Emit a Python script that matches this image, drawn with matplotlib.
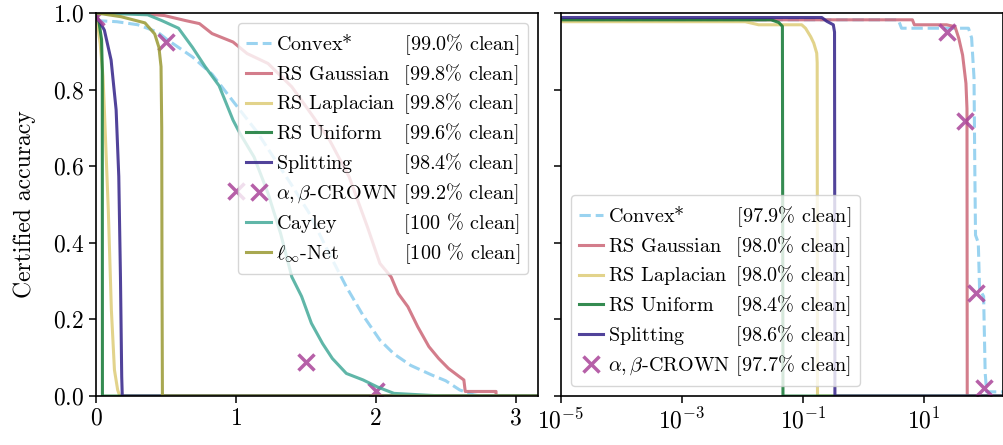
import matplotlib
matplotlib.use("Agg")
import matplotlib.pyplot as plt
from matplotlib.ticker import NullLocator

plt.rcParams['font.family'] = 'serif'
plt.rcParams['font.serif'] = ['cmr10']
plt.rcParams['mathtext.fontset'] = 'cm'
plt.rcParams['axes.formatter.use_mathtext'] = True
plt.rcParams['axes.unicode_minus'] = False

# colours (Tol muted)
c_convex = '#88CCEE'
c_gauss = '#CC6677'
c_lap = '#DDCC77'
c_unif = '#117733'
c_split = '#332288'
c_crown = '#AA4499'
c_cayley = '#44AA99'
c_linf = '#999933'

# ---- left panel (l2 radius) ----
convex_l_x = [0, 0.15, 0.3, 0.44, 0.51, 0.69, 0.83, 1.0, 1.15, 1.4, 1.52, 1.67, 1.79, 1.91, 2.03, 2.13, 2.25, 2.4, 2.5, 2.6, 2.7, 2.75, 3.2]
convex_l_y = [0.98, 0.977, 0.969, 0.95, 0.93, 0.885, 0.84, 0.76, 0.69, 0.55, 0.48, 0.37, 0.285, 0.21, 0.146, 0.11, 0.08, 0.055, 0.04, 0.016, 0.003, 0, 0]

gauss_l_x = [0, 0.34, 0.49, 0.64, 0.74, 0.83, 0.98, 1.08, 1.23, 1.40, 1.52, 1.67, 1.81, 1.94, 2.03, 2.11, 2.16, 2.23, 2.30, 2.38, 2.45, 2.52, 2.60, 2.63, 2.64, 2.86, 2.86, 3.2]
gauss_l_y = [1.0, 0.998, 0.993, 0.98, 0.972, 0.946, 0.924, 0.894, 0.868, 0.807, 0.746, 0.668, 0.572, 0.442, 0.346, 0.311, 0.268, 0.233, 0.181, 0.129, 0.098, 0.072, 0.05, 0.042, 0.012, 0.012, 0, 0]

lap_l_x = [0, 0.03, 0.05, 0.06, 0.088, 0.11, 0.132, 0.155, 0.17, 3.2]
lap_l_y = [0.998, 0.92, 0.834, 0.747, 0.486, 0.225, 0.068, 0.016, 0, 0]

unif_l_x = [0, 0.02, 0.04, 0.045, 0.046, 3.2]
unif_l_y = [0.998, 0.98, 0.93, 0.85, 0, 0]

split_l_x = [0, 0.03, 0.06, 0.108, 0.144, 0.163, 0.175, 0.184, 0.188, 3.2]
split_l_y = [0.99, 0.975, 0.955, 0.877, 0.747, 0.573, 0.31, 0.05, 0, 0]

crown_l_x = [0, 0.5, 1.0, 1.5, 2.0]
crown_l_y = [0.99, 0.924, 0.536, 0.09, 0.014]

cayley_l_x = [0, 0.37, 0.47, 0.59, 0.69, 0.78, 0.88, 0.98, 1.03, 1.13, 1.23, 1.32, 1.40, 1.47, 1.54, 1.62, 1.69, 1.79, 1.91, 2.01, 2.13, 2.38, 2.5, 3.2]
cayley_l_y = [1.0, 0.995, 0.98, 0.96, 0.91, 0.86, 0.81, 0.72, 0.685, 0.624, 0.529, 0.424, 0.311, 0.26, 0.19, 0.137, 0.098, 0.059, 0.042, 0.024, 0.007, 0.002, 0, 0]

linf_l_x = [0, 0.18, 0.35, 0.42, 0.45, 0.465, 0.47, 0.472, 0.475, 3.2]
linf_l_y = [1.0, 0.99, 0.974, 0.945, 0.91, 0.86, 0.7, 0.3, 0, 0]

# ---- right panel (linf radius, log) ----
convex_r_x = [1e-5, 3.8, 4.3, 55, 62, 68, 70, 72, 80, 84, 98, 104, 110, 300]
convex_r_y = [0.982, 0.982, 0.96, 0.96, 0.935, 0.83, 0.6, 0.42, 0.40, 0.28, 0.26, 0.06, 0.011, 0.011]

gauss_r_x = [1e-5, 6.5, 7.0, 24, 33, 38, 44, 50, 52, 52.5, 300]
gauss_r_y = [0.982, 0.982, 0.969, 0.969, 0.964, 0.934, 0.89, 0.816, 0.75, 0, 0]

lap_r_x = [1e-5, 0.0112, 0.0186, 0.096, 0.111, 0.135, 0.152, 0.17, 0.173, 0.175, 300]
lap_r_y = [0.977, 0.977, 0.969, 0.969, 0.96, 0.938, 0.921, 0.895, 0.87, 0, 0]

unif_r_x = [1e-5, 0.03, 0.04, 0.046, 0.047, 300]
unif_r_y = [0.982, 0.982, 0.975, 0.965, 0, 0]

split_r_x = [1e-5, 0.206, 0.25, 0.32, 0.335, 0.34, 300]
split_r_y = [0.988, 0.988, 0.978, 0.969, 0.95, 0, 0]

crown_r_x = [24.3, 49, 73, 98]
crown_r_y = [0.951, 0.718, 0.268, 0.02]

names_l = ['Convex*', 'RS Gaussian', 'RS Laplacian', 'RS Uniform', 'Splitting',
           r'$\alpha, \beta$-CROWN', 'Cayley', r'$\ell_\infty$-Net']
clean_l = ['[99.0% clean]', '[99.8% clean]', '[99.8% clean]', '[99.6% clean]',
           '[98.4% clean]', '[99.2% clean]', '[100 % clean]', '[100 % clean]']
names_r = names_l[:6]
clean_r = ['[97.9% clean]', '[98.0% clean]', '[98.0% clean]', '[98.4% clean]',
           '[98.6% clean]', '[97.7% clean]']

fig, (ax1, ax2) = plt.subplots(1, 2, sharey=True, figsize=(10.04, 4.45), dpi=100)
fig.subplots_adjust(left=0.0956, right=0.999, top=0.971, bottom=0.110, wspace=0.052)

lw = 2.2
al = 0.85
ms = 12
mw = 2.5

h1 = []
h1 += ax1.plot(convex_l_x, convex_l_y, '--', color=c_convex, lw=lw, alpha=al)
h1 += ax1.plot(gauss_l_x, gauss_l_y, color=c_gauss, lw=lw, alpha=al)
h1 += ax1.plot(lap_l_x, lap_l_y, color=c_lap, lw=lw, alpha=al)
h1 += ax1.plot(unif_l_x, unif_l_y, color=c_unif, lw=lw, alpha=al)
h1 += ax1.plot(split_l_x, split_l_y, color=c_split, lw=lw, alpha=al)
h1 += ax1.plot(crown_l_x, crown_l_y, 'x', color=c_crown, ms=ms, mew=mw, alpha=al)
h1 += ax1.plot(cayley_l_x, cayley_l_y, color=c_cayley, lw=lw, alpha=al)
h1 += ax1.plot(linf_l_x, linf_l_y, color=c_linf, lw=lw, alpha=al)

h2 = []
h2 += ax2.plot(convex_r_x, convex_r_y, '--', color=c_convex, lw=lw, alpha=al)
h2 += ax2.plot(gauss_r_x, gauss_r_y, color=c_gauss, lw=lw, alpha=al)
h2 += ax2.plot(lap_r_x, lap_r_y, color=c_lap, lw=lw, alpha=al)
h2 += ax2.plot(unif_r_x, unif_r_y, color=c_unif, lw=lw, alpha=al)
h2 += ax2.plot(split_r_x, split_r_y, color=c_split, lw=lw, alpha=al)
h2 += ax2.plot(crown_r_x, crown_r_y, 'x', color=c_crown, ms=ms, mew=mw, alpha=al)

ax1.set_xlim(0, 3.16)
ax1.set_ylim(0, 1)
ax1.set_xticks([0, 1, 2, 3])
ax1.set_yticks([0, 0.2, 0.4, 0.6, 0.8, 1.0])
ax1.set_ylabel('Certified accuracy', fontsize=17, labelpad=12)

ax2.set_xscale('log')
ax2.set_xlim(1e-5, 205)
ax2.set_xticks([1e-5, 1e-3, 1e-1, 1e1])
ax2.xaxis.set_minor_locator(NullLocator())

for ax in (ax1, ax2):
    ax.tick_params(labelsize=17, length=5, width=1.1)
    for s in ax.spines.values():
        s.set_linewidth(1.2)

# legend: name and clean accuracy in two aligned columns,
# the gap is filled with a mathtext \hspace measured on the canvas
leg_fs = 14.5
renderer = fig.canvas.get_renderer()


def text_width(s):
    t = fig.text(0, 0, s, fontsize=leg_fs)
    w = t.get_window_extent(renderer).width
    t.remove()
    return w


unit = (text_width(r'a$\hspace{10}$a') - text_width(r'a$\hspace{0}$a')) / 10


def padded_labels(names, cleans, gap=7):
    widths = [text_width(n + r'$\hspace{0}$') for n in names]
    wmax = max(widths)
    return [n + r'$\hspace{%.3f}$' % ((wmax - w + gap) / unit) + c
            for n, w, c in zip(names, widths, cleans)]


ax1.legend(h1, padded_labels(names_l, clean_l), loc='upper right', fontsize=leg_fs,
           handlelength=1.2, handletextpad=0.25, labelspacing=0.25, borderpad=0.4)
ax2.legend(h2, padded_labels(names_r, clean_r), loc='lower left', fontsize=leg_fs,
           handlelength=1.2, handletextpad=0.25, labelspacing=0.25, borderpad=0.4)

fig.savefig('out.png', dpi=100)
